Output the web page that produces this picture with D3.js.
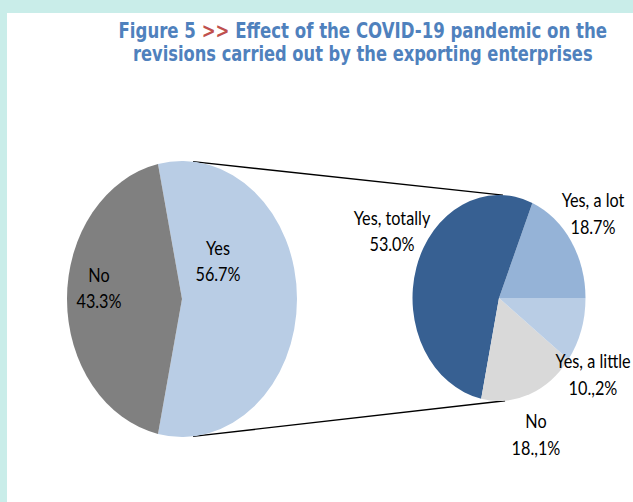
<!DOCTYPE html>
<html>
<head>
<meta charset="utf-8">
<script src="https://cdn.jsdelivr.net/npm/d3@7"></script>
<style>
  html, body { margin: 0; padding: 0; background: #ffffff; }
  svg { display: block; }
</style>
</head>
<body>
<svg id="chart" width="633" height="502"></svg>
<script>
// ---- Data ----
const titleLine1 = [
  { text: "Figure 5 ", accent: false },
  { text: ">>", accent: true },
  { text: " Effect of the COVID-19 pandemic on the", accent: false }
];
const titleLine2 = "revisions carried out by the exporting enterprises";

// main pie: did the pandemic affect the revisions?
const mainCategories = ["Yes", "No"];
const mainValues = [56.7, 43.3];
const mainLabels = ["56.7%", "43.3%"];

// secondary pie: breakdown of the "Yes" answers plus the "No" answers
const detailCategories = ["Yes, a lot", "Yes, totally", "No", "Yes, a little"];
const detailValues = [18.7, 53.0, 18.1, 10.2];
const detailLabels = ["18.7%", "53.0%", "18.,1%", "10.,2%"];

// ---- Styling / layout ----
const W = 633, H = 502;
const teal = "#c9ede9";
const titleBlue = "#4f81bd";
const titleRed = "#c0504d";

const mainColors = { "Yes": "#b9cde5", "No": "#808080" };
const detailColors = {
  "Yes, a lot": "#95b3d7",
  "Yes, totally": "#376092",
  "No": "#d9d9d9",
  "Yes, a little": "#b9cde5"
};

// both pies are drawn as circles squeezed horizontally
const mainPie = { cx: 182, cy: 299, r: 138, sx: 115 / 138 };
const detailPie = { cx: 499, cy: 298, r: 103, sx: 86.5 / 103 };

// label anchors (first baseline) relative to each pie centre
const mainLabelPos = { "Yes": [36, -44], "No": [-83, -17.3] };
const detailLabelPos = {
  "Yes, a lot": [94, -90.7],
  "Yes, totally": [-107, -73],
  "No": [37, 130.3],
  "Yes, a little": [94, 70.3]
};
const lineGap = 26.5;
const labelFont = "Lato, 'Open Sans', sans-serif";
const labelSize = 19;
const labelSqueeze = 0.855;

const svg = d3.select("#chart");

// frame: teal band on top and left, white panel
svg.append("rect").attr("x", 0).attr("y", 0).attr("width", W).attr("height", H).attr("fill", teal);
svg.append("rect").attr("x", 7).attr("y", 13).attr("width", W - 7).attr("height", H - 13).attr("fill", "#ffffff");

// ---- Title ----
const titleG = svg.append("g")
  .attr("font-family", "'DejaVu Sans', sans-serif")
  .attr("font-weight", "bold")
  .attr("font-size", 21);
const t1 = titleG.append("text");
t1.selectAll("tspan").data(titleLine1).join("tspan")
  .attr("fill", d => d.accent ? titleRed : titleBlue)
  .style("white-space", "pre")
  .text(d => d.text);
const t2 = titleG.append("text")
  .attr("fill", titleBlue)
  .text(titleLine2);

// squeeze each title line to its set width, centred over the chart
const titleCx = 363;
function fitLine(sel, width, baseline) {
  const w = sel.node().getComputedTextLength();
  const k = width / w;
  sel.attr("transform", `translate(${titleCx - width / 2},${baseline}) scale(${k},1)`);
}
fitLine(t1, 489, 37.5);
fitLine(t2, 460, 60.5);

// ---- helpers ----
function ellipsePoint(p, angleDeg) {
  const a = angleDeg * Math.PI / 180;
  return [p.cx + p.sx * p.r * Math.sin(a), p.cy - p.r * Math.cos(a)];
}

// ---- Connector lines between the pies ----
const connectors = [
  [ellipsePoint(mainPie, 5.5), ellipsePoint(detailPie, 2.6)],
  [ellipsePoint(mainPie, 174.5), ellipsePoint(detailPie, 176)]
];
svg.append("g").selectAll("line").data(connectors).join("line")
  .attr("x1", d => d[0][0]).attr("y1", d => d[0][1])
  .attr("x2", d => d[1][0]).attr("y2", d => d[1][1])
  .attr("stroke", "#000").attr("stroke-width", 1.4);

// ---- Main pie ("Yes" centred on the right) ----
const mainTotal = d3.sum(mainValues);
const mainStart = Math.PI / 2 - Math.PI * mainValues[0] / mainTotal;
const pieMain = d3.pie().sort(null).value(d => d.value)
  .startAngle(mainStart).endAngle(mainStart + 2 * Math.PI);
const mainData = pieMain(mainCategories.map((c, i) => ({ cat: c, value: mainValues[i], label: mainLabels[i] })));
const arcMain = d3.arc().innerRadius(0).outerRadius(mainPie.r);

svg.append("g")
  .attr("transform", `translate(${mainPie.cx},${mainPie.cy}) scale(${mainPie.sx},1)`)
  .selectAll("path").data(mainData).join("path")
  .attr("d", arcMain)
  .attr("fill", d => mainColors[d.data.cat]);

// ---- Detail pie (counter-clockwise from 3 o'clock) ----
const pieDetail = d3.pie().sort(null).value(d => d.value)
  .startAngle(Math.PI / 2).endAngle(Math.PI / 2 - 2 * Math.PI);
const detailData = pieDetail(detailCategories.map((c, i) => ({ cat: c, value: detailValues[i], label: detailLabels[i] })));
const arcDetail = d3.arc().innerRadius(0).outerRadius(detailPie.r);

svg.append("g")
  .attr("transform", `translate(${detailPie.cx},${detailPie.cy}) scale(${detailPie.sx},1)`)
  .selectAll("path").data(detailData).join("path")
  .attr("d", arcDetail)
  .attr("fill", d => detailColors[d.data.cat]);

// ---- Labels ----
function drawLabels(data, pie, posMap) {
  const g = svg.append("g")
    .attr("font-family", labelFont)
    .attr("font-size", labelSize)
    .attr("fill", "#000")
    .attr("text-anchor", "middle");
  const lg = g.selectAll("g").data(data).join("g")
    .attr("transform", d => {
      const p = posMap[d.data.cat];
      return `translate(${pie.cx + p[0]},${pie.cy + p[1]}) scale(${labelSqueeze},1)`;
    });
  lg.append("text").attr("x", 0).attr("y", 0).text(d => d.data.cat);
  lg.append("text").attr("x", 0).attr("y", lineGap).text(d => d.data.label);
}
drawLabels(mainData, mainPie, mainLabelPos);
drawLabels(detailData, detailPie, detailLabelPos);
</script>
</body>
</html>
